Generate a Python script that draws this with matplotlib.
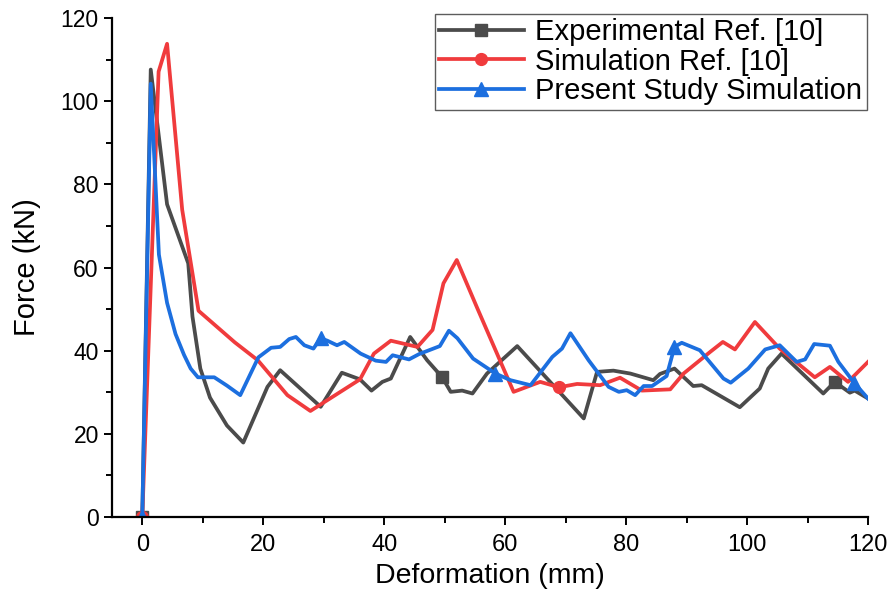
import matplotlib.pyplot as plt
from matplotlib.ticker import MultipleLocator

# Experimental Ref. [10]
exp_x = [0, 1.4, 4.1, 7.6, 8.3, 9.6, 11.2, 14.0, 16.7, 20.7, 22.8, 29.5, 33.0, 36.0,
         37.9, 39.7, 41.1, 44.3, 47.1, 49.6, 51.0, 52.9, 54.6, 57.0, 62.0, 73.0, 75.2,
         77.9, 80.7, 84.5, 85.6, 88.0, 91.1, 92.5, 98.8, 102.1, 103.5, 105.7, 112.6,
         114.5, 117.0, 117.8, 120]
exp_y = [0, 107.6, 75.2, 61.0, 48.2, 35.7, 28.7, 22.0, 17.9, 31.3, 35.3, 26.5, 34.7, 33.1,
         30.4, 32.5, 33.3, 43.3, 37.7, 33.6, 30.1, 30.4, 29.7, 34.5, 41.1, 23.7, 34.9,
         35.2, 34.5, 32.9, 34.4, 35.7, 31.5, 31.7, 26.4, 30.9, 35.7, 39.3, 29.7,
         32.5, 29.9, 30.4, 28.5]

# Simulation Ref. [10]
sim_x = [0, 2.7, 4.1, 6.6, 9.3, 15.3, 19.1, 24.0, 27.8, 36.0, 38.3, 41.1, 45.5, 48.0,
         49.8, 52.0, 55.4, 61.4, 65.8, 68.9, 71.9, 75.7, 79.0, 82.6, 87.3, 89.5, 93.9,
         96.0, 98.0, 101.3, 105.4, 111.2, 113.7, 116.7, 120]
sim_y = [0, 107.1, 113.8, 73.9, 49.6, 42.0, 37.7, 29.3, 25.5, 33.1, 39.3, 42.4, 40.9, 45.0,
         56.2, 61.8, 50.2, 30.1, 32.5, 31.2, 32.0, 31.7, 33.5, 30.4, 30.7, 34.5, 39.7,
         42.1, 40.3, 46.9, 40.5, 33.6, 36.1, 32.5, 37.3]

# Present Study Simulation
pres_x = [0, 1.4, 2.75, 4.1, 5.5, 6.9, 8.0, 9.2, 11.9, 14.0, 16.2, 19.2, 21.3, 22.8, 24.3,
          25.4, 26.8, 28.3, 29.5, 30.6, 32.2, 33.4, 36.1, 38.6, 40.3, 41.4, 44.1, 45.8,
          49.2, 50.7, 52.1, 54.7, 58.4, 60.9, 64.2, 67.8, 69.4, 70.8, 73.8, 77.1, 78.8,
          80.1, 81.5, 82.9, 84.3, 86.7, 88.0, 89.2, 92.2, 96.1, 97.3, 100.2, 103.0,
          105.4, 108.2, 109.6, 111.1, 113.7, 115.1, 117.7, 120]
pres_y = [0, 104.2, 63.1, 51.5, 44.0, 39.0, 35.7, 33.6, 33.6, 31.6, 29.3, 38.4, 40.7, 40.9,
          42.8, 43.3, 41.3, 40.5, 43.0, 42.4, 41.3, 42.1, 39.3, 37.6, 37.3, 38.9, 37.9,
          39.2, 41.1, 44.8, 43.0, 38.1, 34.5, 32.9, 31.7, 38.5, 40.5, 44.2, 37.7, 31.3,
          30.1, 30.5, 29.3, 31.5, 31.5, 33.9, 40.9, 41.9, 40.1, 33.3, 32.3, 35.7, 40.3,
          41.3, 37.3, 37.9, 41.6, 41.2, 37.3, 32.3, 28.5]

labels = ["Experimental Ref. [10]", "Simulation Ref. [10]", "Present Study Simulation"]

plt.rcParams['font.family'] = ["Liberation Sans", "DejaVu Sans"]

fig = plt.figure(figsize=(8.92, 5.94), dpi=100)
ax = fig.add_axes([0.1256, 0.1296, 0.8475, 0.8401])

ax.plot(exp_x, exp_y, color='#4b4b4b', lw=2.7, marker='s', ms=8.5,
        markevery=[0, 19, 39], label=labels[0])
ax.plot(sim_x, sim_y, color='#f03b3d', lw=2.7, marker='o', ms=8.5,
        markevery=[0, 19], label=labels[1])
ax.plot(pres_x, pres_y, color='#1c6fdf', lw=2.7, marker='^', ms=10,
        markevery=[0, 18, 32, 46, 59], label=labels[2])

ax.set_xlim(-5, 120)
ax.set_ylim(0, 120)
ax.xaxis.set_major_locator(MultipleLocator(20))
ax.xaxis.set_minor_locator(MultipleLocator(10))
ax.yaxis.set_major_locator(MultipleLocator(20))
ax.yaxis.set_minor_locator(MultipleLocator(10))

for s in ['top', 'right']:
    ax.spines[s].set_visible(False)
for s in ['left', 'bottom']:
    ax.spines[s].set_linewidth(1.6)

ax.tick_params(which='major', direction='out', length=6, width=1.4, labelsize=16.5)
ax.tick_params(which='minor', direction='out', length=4, width=1.4)
ax.tick_params(axis='x', labelsize=17, pad=6)

ax.set_xlabel("Deformation (mm)", fontsize=20.5, labelpad=5)
ax.set_ylabel("Force (kN)", fontsize=21, labelpad=14)

leg = ax.legend(loc='upper right', bbox_to_anchor=(1.006, 1.02), fontsize=21,
                frameon=True, fancybox=False, edgecolor='#333333',
                handlelength=2.9, handletextpad=0.4, borderpad=0.15,
                labelspacing=0.05, borderaxespad=0.2)
leg.get_frame().set_linewidth(1.0)

fig.savefig("out.png", dpi=100)
